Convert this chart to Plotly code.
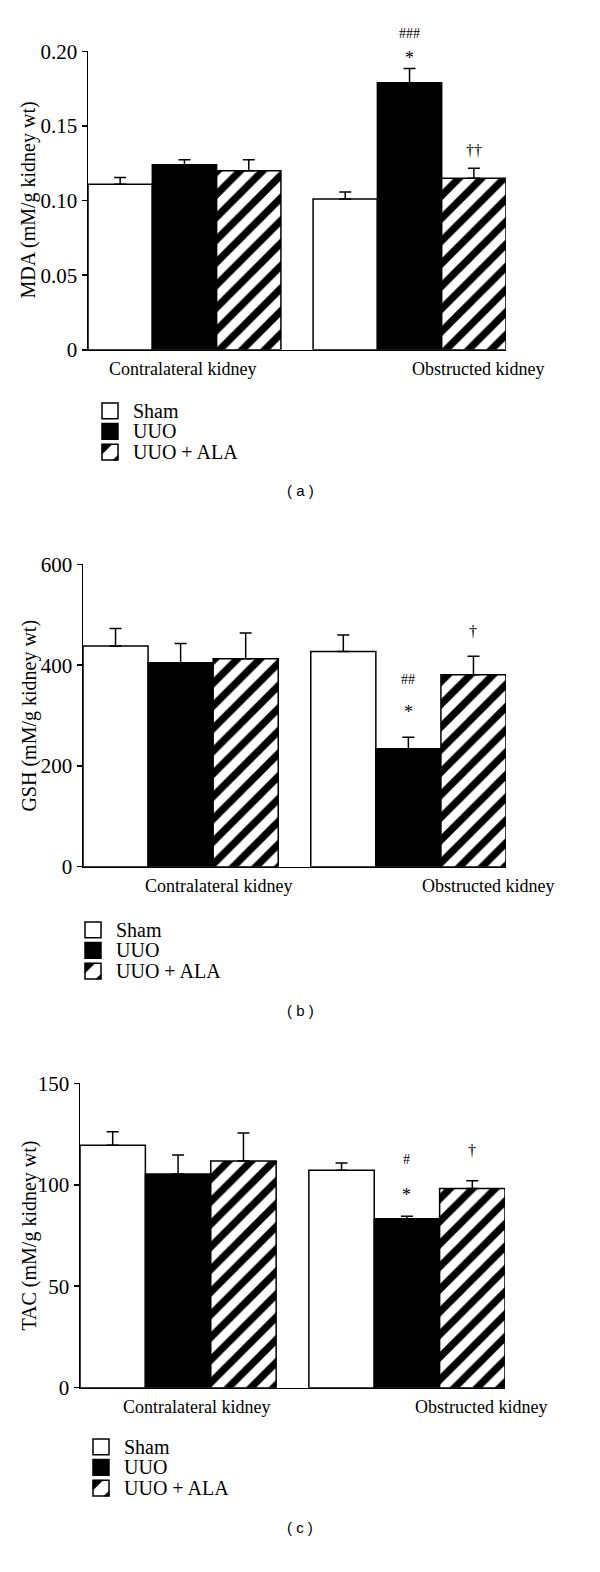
import plotly.graph_objects as go

# ---------------- data ----------------
categories = ["Contralateral kidney", "Obstructed kidney"]
series_names = ["Sham", "UUO", "UUO + ALA"]

mda_sham = [0.111, 0.101]
mda_sham_err = [0.0045, 0.0047]
mda_uuo = [0.124, 0.179]
mda_uuo_err = [0.0033, 0.0096]
mda_ala = [0.120, 0.115]
mda_ala_err = [0.0073, 0.0067]

gsh_sham = [438, 427]
gsh_sham_err = [35, 33]
gsh_uuo = [405, 234]
gsh_uuo_err = [38, 23]
gsh_ala = [413, 381]
gsh_ala_err = [51, 37]

tac_sham = [119.5, 107.2]
tac_sham_err = [6.7, 3.5]
tac_uuo = [105.3, 83.3]
tac_uuo_err = [9.4, 1.2]
tac_ala = [111.7, 98.2]
tac_ala_err = [13.8, 3.8]

mda_ticks = [0, 0.05, 0.10, 0.15, 0.20]
mda_ticktext = ["0", "0.05", "0.10", "0.15", "0.20"]
gsh_ticks = [0, 200, 400, 600]
tac_ticks = [0, 50, 100, 150]

# significance marks: (category index, series index, text, y value, pixel shift, font size)
mda_marks = [(1, 1, "###", 0.1955, 25, 14), (1, 1, "*", 0.1955, 0, 18), (1, 2, "††", 0.1336, 0, 16)]
gsh_marks = [(1, 1, "##", 372, 0, 14), (1, 1, "*", 308, 0, 18), (1, 2, "†", 466, 0, 16)]
tac_marks = [(1, 1, "#", 112.4, 0, 14), (1, 1, "*", 95, 0, 18), (1, 2, "†", 116.8, 0, 16)]

panels = [
    dict(name="MDA (mM/g kidney wt)", caption="( a )",
         vals=[mda_sham, mda_uuo, mda_ala], errs=[mda_sham_err, mda_uuo_err, mda_ala_err],
         ticks=mda_ticks, ticktext=mda_ticktext, rng=[0, 0.2], marks=mda_marks,
         px=(88, 506), py=(40, 343), title_x=29, leg_x=102, leg_y=405, cap_y=486,
         cat_x=(182, 478)),
    dict(name="GSH (mM/g kidney wt)", caption="( b )",
         vals=[gsh_sham, gsh_uuo, gsh_ala], errs=[gsh_sham_err, gsh_uuo_err, gsh_ala_err],
         ticks=gsh_ticks, ticktext=[str(t) for t in gsh_ticks], rng=[0, 600], marks=gsh_marks,
         px=(83, 506), py=(561, 868), title_x=30, leg_x=85, leg_y=932, cap_y=1014,
         cat_x=(218, 488)),
    dict(name="TAC (mM/g kidney wt)", caption="( c )",
         vals=[tac_sham, tac_uuo, tac_ala], errs=[tac_sham_err, tac_uuo_err, tac_ala_err],
         ticks=tac_ticks, ticktext=[str(t) for t in tac_ticks], rng=[0, 150], marks=tac_marks,
         px=(80, 505), py=(1088, 1397), title_x=30, leg_x=93, leg_y=1457, cap_y=1539,
         cat_x=(196, 481)),
]

W, H = 600, 1572
SERIF = "Liberation Serif, Times New Roman, serif"
SANS = "Liberation Sans, Arial, sans-serif"
BARGAP = 0.5 / 3.5
BARW = (1 - BARGAP) / 3
BOX = 16
ROW = 21


def px2x(v):
    return v / W


def px2y(v):
    return 1 - v / H


fig = go.Figure()
annotations = []
shapes = []

for i, p in enumerate(panels):
    sfx = "" if i == 0 else str(i + 1)
    xa, ya = "x" + sfx, "y" + sfx
    for s, nm in enumerate(series_names):
        marker = dict(color="black" if s == 1 else "white", line=dict(color="black", width=1.5))
        if s == 2:
            marker["pattern"] = dict(shape="/", fgcolor="black", bgcolor="white",
                                     fgopacity=1, size=16, solidity=0.45)
        fig.add_trace(go.Bar(
            x=categories, y=p["vals"][s], name=nm, marker=marker,
            error_y=dict(type="data", array=p["errs"][s], arrayminus=[0] * len(categories),
                         symmetric=False, color="black", thickness=1.5, width=6),
            xaxis=xa, yaxis=ya, offsetgroup=str(s), showlegend=False,
        ))
    fig.layout["xaxis" + sfx] = dict(
        domain=[px2x(p["px"][0]), px2x(p["px"][1])], anchor=ya, type="category",
        range=[-0.5 + 0.5 * BARGAP, 1.5 - 0.5 * BARGAP],
        showline=True, linecolor="black", linewidth=1.5, ticks="", showgrid=False, zeroline=False,
        showticklabels=False, fixedrange=True)
    fig.layout["yaxis" + sfx] = dict(
        domain=[px2y(p["py"][1]), px2y(p["py"][0])], anchor=xa, range=p["rng"],
        tickvals=p["ticks"], ticktext=p["ticktext"], ticks="outside", ticklen=5, tickwidth=1.5,
        tickcolor="black", showline=True, linecolor="black", linewidth=1.5, showgrid=False,
        zeroline=False, tickfont=dict(family=SERIF, size=21, color="black"), fixedrange=True)

    # category labels
    for ci, cat in enumerate(categories):
        annotations.append(dict(
            text=cat, xref="paper", yref="paper", x=px2x(p["cat_x"][ci]),
            y=px2y(p["py"][1] + 20), xanchor="center", yanchor="middle", showarrow=False,
            font=dict(family=SERIF, size=18, color="black")))
    # y title
    annotations.append(dict(
        text=p["name"], textangle=-90, xref="paper", yref="paper",
        x=px2x(p["title_x"]), y=px2y((p["py"][0] + p["py"][1]) / 2),
        xanchor="center", yanchor="middle",
        showarrow=False, font=dict(family=SERIF, size=20, color="black")))
    # caption
    annotations.append(dict(
        text=p["caption"], xref="paper", yref="paper", x=0.5, y=px2y(p["cap_y"]),
        xanchor="center", yanchor="middle",
        showarrow=False, font=dict(family=SANS, size=15, color="black")))
    # significance marks
    for ci, si, txt, yv, sh, fs in p["marks"]:
        annotations.append(dict(
            text=txt, xref=xa, yref=ya, x=ci + (si - 1) * BARW, y=yv, yshift=sh,
            xanchor="center", yanchor="middle",
            showarrow=False, font=dict(family=SERIF, size=fs, color="black")))

    # legend (drawn manually)
    lx = p["leg_x"]
    for s, nm in enumerate(series_names):
        cy = p["leg_y"] + s * ROW
        x0, x1 = lx, lx + BOX
        y0, y1 = cy - BOX / 2, cy + BOX / 2
        shapes.append(dict(type="rect", xref="paper", yref="paper",
                           x0=px2x(x0), x1=px2x(x1), y0=px2y(y1), y1=px2y(y0),
                           fillcolor="black" if s == 1 else "white",
                           line=dict(color="black", width=1.5)))
        if s == 2:
            path1 = "M {a},{b} L {c},{b} L {a},{d} Z".format(
                a=px2x(x0), b=px2y(y0), c=px2x(x0 + 10), d=px2y(y0 + 10))
            path2 = "M {a},{b} L {c},{b} L {c},{d} Z".format(
                a=px2x(x1 - 5), b=px2y(y1), c=px2x(x1), d=px2y(y1 - 5))
            for pth in (path1, path2):
                shapes.append(dict(type="path", xref="paper", yref="paper", path=pth,
                                   fillcolor="black", line=dict(color="black", width=0.5)))
        annotations.append(dict(
            text=nm, xref="paper", yref="paper", x=px2x(x0 + 29), y=px2y(cy),
            xanchor="left", yanchor="middle", showarrow=False,
            font=dict(family=SERIF, size=20, color="black")))

fig.update_layout(width=W, height=H, margin=dict(l=0, r=0, t=0, b=0),
                  paper_bgcolor="white", plot_bgcolor="white",
                  barmode="group", bargap=BARGAP, bargroupgap=0,
                  annotations=annotations, shapes=shapes, showlegend=False)

fig.write_html("out.html", config={"displayModeBar": False, "staticPlot": True},
               post_script="document.body.style.margin='0';document.body.style.padding='0';")
